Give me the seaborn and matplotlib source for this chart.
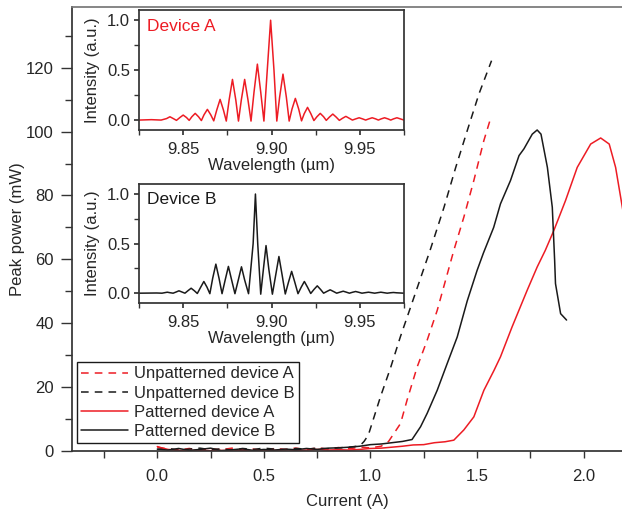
"""
Peak power vs current for patterned / unpatterned lasers, with spectra insets.
"""
import matplotlib
matplotlib.use("Agg")
import matplotlib.pyplot as plt
from matplotlib.ticker import MultipleLocator
import seaborn as sns
import pandas as pd

sns.set_theme(style="ticks")
plt.rcParams["font.family"] = ["Liberation Sans", "DejaVu Sans"]

RED = "#ed1c24"
BLACK = "#1a1a1a"

# %% L-I data (current in A, peak power in mW)
unpat_a_I = [0.00, 0.05, 0.10, 0.15, 0.20, 0.25, 0.30, 0.35, 0.40, 0.45, 0.50, 0.55, 0.60,
             0.65, 0.70, 0.75, 0.80, 0.85, 0.90, 0.95, 1.00, 1.05, 1.085, 1.141, 1.172,
             1.219, 1.266, 1.313, 1.391, 1.438, 1.485, 1.532, 1.563]
unpat_a_P = [1.2, 0.6, 0.3, 0.8, 0.2, 0.7, 0.4, 0.9, 0.3, 0.6, 0.2, 0.8, 0.5, 0.9, 0.4,
             1.0, 0.6, 1.1, 0.7, 1.2, 1.0, 1.5, 3.0, 8.6, 16.0, 26.3, 34.7, 44.0, 62.8,
             73.2, 84.7, 97.2, 104.0]

unpat_b_I = [0.00, 0.05, 0.10, 0.15, 0.20, 0.25, 0.30, 0.35, 0.40, 0.45, 0.50, 0.55, 0.60,
             0.65, 0.70, 0.75, 0.80, 0.85, 0.90, 0.95, 0.97, 0.99, 1.047, 1.094, 1.14,
             1.188, 1.258, 1.282, 1.345, 1.40, 1.454, 1.509, 1.547, 1.568]
unpat_b_P = [0.5, 0.8, 0.3, 0.6, 0.9, 0.4, 0.7, 0.3, 0.8, 0.5, 0.9, 0.6, 0.4, 0.8, 0.6,
             0.9, 0.7, 1.0, 1.2, 1.6, 3.0, 5.0, 17.0, 26.0, 35.7, 45.0, 58.6, 63.3, 76.3,
             88.8, 100.3, 111.8, 118.5, 122.2]

pat_a_I = [0.00, 0.02, 0.05, 0.10, 0.15, 0.20, 0.25, 0.30, 0.35, 0.40, 0.45, 0.50, 0.55,
           0.60, 0.65, 0.70, 0.75, 0.80, 0.85, 0.90, 0.95, 1.00, 1.05, 1.10, 1.15, 1.20,
           1.25, 1.30, 1.35, 1.391, 1.438, 1.485, 1.532, 1.58, 1.61, 1.664, 1.735, 1.782,
           1.82, 1.86, 1.915, 1.97, 2.033, 2.08, 2.12, 2.15, 2.19]
pat_a_P = [1.4, 1.0, 0.5, 0.2, 0.1, 0.3, 0.1, 0.2, 0.0, 0.2, 0.1, 0.3, 0.2, 0.4, 0.2,
           0.3, 0.5, 0.3, 0.4, 0.3, 0.5, 0.8, 0.9, 1.2, 1.5, 1.9, 2.0, 2.6, 2.9, 3.4,
           6.6, 10.7, 19.0, 25.3, 29.5, 38.8, 50.3, 57.6, 62.8, 69.0, 78.4, 88.8, 96.1,
           98.0, 96.1, 88.8, 73.0]

pat_b_I = [0.00, 0.05, 0.10, 0.15, 0.20, 0.25, 0.30, 0.35, 0.40, 0.45, 0.50, 0.55, 0.60,
           0.65, 0.70, 0.75, 0.80, 0.85, 0.90, 0.95, 1.00, 1.05, 1.10, 1.15, 1.195, 1.235,
           1.266, 1.313, 1.36, 1.407, 1.454, 1.50, 1.53, 1.578, 1.61, 1.657, 1.697, 1.72,
           1.759, 1.782, 1.80, 1.83, 1.853, 1.864, 1.868, 1.892, 1.92]
pat_b_P = [0.6, 0.3, 0.8, 0.2, 0.5, 0.9, 0.1, 0.4, 0.7, 0.2, 0.5, 0.3, 0.6, 0.4, 0.8,
           0.5, 0.9, 1.0, 1.2, 1.5, 2.0, 2.2, 2.6, 3.0, 3.6, 7.6, 11.8, 19.0, 27.4, 35.7,
           47.0, 56.5, 62.0, 70.0, 77.4, 84.7, 92.5, 94.6, 99.2, 100.5, 99.2, 88.8, 76.3,
           59.7, 52.4, 43.0, 41.0]

# %% Spectra (wavelength in um, normalised intensity), read peak / flank / trough
spec_a_wl = [9.825, 9.832, 9.8375, 9.8406, 9.8425, 9.8444, 9.8462, 9.8481, 9.850, 9.8519,
             9.8534, 9.8549, 9.8568, 9.8587, 9.8603, 9.8618, 9.8637, 9.8656, 9.8673, 9.869,
             9.8709, 9.8728, 9.8744, 9.876, 9.8779, 9.8798, 9.8813, 9.8829, 9.8848, 9.8867,
             9.8884, 9.8901, 9.892, 9.8939, 9.8957, 9.8976, 9.8995, 9.9014, 9.903, 9.9046,
             9.9065, 9.9084, 9.910, 9.9116, 9.9135, 9.9154, 9.917, 9.9185, 9.9204, 9.9223,
             9.924, 9.9257, 9.9276, 9.9295, 9.931, 9.9328, 9.9347, 9.9366, 9.9384, 9.9402,
             9.9421, 9.944, 9.9458, 9.9477, 9.9496, 9.9515, 9.9533, 9.9551, 9.957, 9.9589,
             9.9605, 9.9621, 9.964, 9.9659, 9.9675, 9.9691, 9.971, 9.9729, 9.975]
spec_a_int = [0.0, 0.004, 0.0, 0.015, 0.033, 0.015, -0.003, 0.025, 0.05, 0.025,
              -0.003, 0.033, 0.067, 0.033, -0.005, 0.053, 0.107, 0.053, -0.008, 0.10,
              0.207, 0.10, -0.01, 0.20, 0.407, 0.20, -0.01, 0.20, 0.407, 0.20,
              -0.01, 0.28, 0.56, 0.28, -0.01, 0.50, 1.0, 0.50, -0.01, 0.23,
              0.46, 0.23, -0.01, 0.11, 0.217, 0.11, -0.008, 0.063, 0.127, 0.063,
              -0.005, 0.033, 0.067, 0.033, -0.003, 0.03, 0.06, 0.03, -0.003, 0.018,
              0.037, 0.018, 0.0, 0.012, 0.023, 0.012, 0.0, 0.012, 0.023, 0.012,
              0.0, 0.012, 0.023, 0.012, 0.0, 0.012, 0.023, 0.012, 0.0]

spec_b_wl = [9.825, 9.835, 9.838, 9.8395, 9.841, 9.8425, 9.8443, 9.846, 9.8476, 9.8493,
             9.851, 9.8527, 9.8545, 9.8563, 9.858, 9.8599, 9.8617, 9.8635, 9.8651, 9.8667,
             9.8685, 9.8703, 9.872, 9.8738, 9.8756, 9.8774, 9.8793, 9.8812, 9.883, 9.8848,
             9.887, 9.8896, 9.8909, 9.8922, 9.8939, 9.8954, 9.8969, 9.8985, 9.9005, 9.9024,
             9.9042, 9.906, 9.9078, 9.9096, 9.9114, 9.9132, 9.915, 9.9168, 9.9186, 9.9204,
             9.9222, 9.924, 9.9259, 9.9278, 9.9295, 9.9313, 9.9332, 9.9351, 9.9369, 9.9387,
             9.9406, 9.9424, 9.9441, 9.9458, 9.9476, 9.9494, 9.9512, 9.953, 9.9549, 9.9567,
             9.9584, 9.9601, 9.9619, 9.9637, 9.9655, 9.9672, 9.969, 9.9708, 9.975]
spec_b_int = [0.0, 0.002, 0.0, 0.005, 0.01, 0.005, 0.0, 0.012, 0.024, 0.012,
              0.0, 0.025, 0.05, 0.025, -0.003, 0.06, 0.118, 0.06, -0.005, 0.15,
              0.293, 0.15, -0.005, 0.135, 0.27, 0.135, -0.005, 0.133, 0.266, 0.133,
              -0.005, 0.5, 1.0, 0.5, -0.01, 0.24, 0.48, 0.24, -0.01, 0.185,
              0.37, 0.185, -0.008, 0.11, 0.22, 0.11, -0.005, 0.06, 0.118, 0.06,
              -0.003, 0.037, 0.074, 0.037, 0.0, 0.017, 0.034, 0.017, 0.0, 0.01,
              0.02, 0.01, 0.0, 0.009, 0.017, 0.009, 0.0, 0.005, 0.01, 0.005,
              0.0, 0.005, 0.01, 0.005, 0.0, 0.004, 0.007, 0.004, 0.0]

series = [
    ("Unpatterned device A", unpat_a_I, unpat_a_P, RED, (5, 4)),
    ("Unpatterned device B", unpat_b_I, unpat_b_P, BLACK, (5, 4)),
    ("Patterned device A", pat_a_I, pat_a_P, RED, None),
    ("Patterned device B", pat_b_I, pat_b_P, BLACK, None),
]

FS = 12
SPINE = "#333333"

fig = plt.figure(figsize=(6.22, 5.12), dpi=100)
ax = fig.add_axes([0.1158, 0.1191, 0.8842, 0.8672])

for name, cur, pw, col, dash in series:
    d = pd.DataFrame({"Current": cur, "Power": pw})
    ln = sns.lineplot(data=d, x="Current", y="Power", ax=ax, color=col, lw=1.1,
                      sort=False, estimator=None, label=name)
    if dash is not None:
        ln.lines[-1].set_dashes(dash)

ax.set_xticks([0.0, 0.5, 1.0, 1.5, 2.0])
ax.set_xticklabels(["0.0", "0.5", "1.0", "1.5", "2.0"])
ax.xaxis.set_minor_locator(MultipleLocator(0.25))
ax.yaxis.set_major_locator(MultipleLocator(20))
ax.yaxis.set_minor_locator(MultipleLocator(10))
ax.set_xlim(-0.4, 2.18)
ax.set_ylim(0, 139)
ax.tick_params(which="both", direction="out", labelsize=FS, color=SPINE, width=1)
ax.tick_params(axis="y", which="major", length=8, pad=5)
ax.tick_params(axis="y", which="minor", length=5)
ax.tick_params(axis="x", which="both", length=5, pad=8)
ax.set_xlabel("Current (A)", fontsize=FS, labelpad=7)
ax.set_ylabel("Peak power (mW)", fontsize=FS)
ax.yaxis.set_label_coords(-0.086, 0.5)
ax.spines["right"].set_visible(False)
for s in ["left", "bottom"]:
    ax.spines[s].set_color(SPINE)
ax.spines["top"].set_color("#777777")

leg = ax.legend(loc="lower left", bbox_to_anchor=(0.009, 0.018), borderaxespad=0,
                fontsize=FS, frameon=True, fancybox=False, edgecolor=BLACK,
                framealpha=1, handlelength=2.8, handletextpad=0.4, labelspacing=0.25,
                borderpad=0.25)
leg.get_frame().set_linewidth(1.0)


def spectrum_inset(rect, wl, inten, col, title):
    ia = fig.add_axes(rect)
    d = pd.DataFrame({"Wavelength": wl, "Intensity": inten})
    sns.lineplot(data=d, x="Wavelength", y="Intensity", ax=ia, color=col, lw=1.1,
                 sort=False, estimator=None)
    ia.set_xticks([9.85, 9.90, 9.95])
    ia.set_xticklabels(["9.85", "9.90", "9.95"])
    ia.xaxis.set_minor_locator(MultipleLocator(0.025))
    ia.set_yticks([0.0, 0.5, 1.0])
    ia.set_yticklabels(["0.0", "0.5", "1.0"])
    ia.yaxis.set_minor_locator(MultipleLocator(0.25))
    ia.set_xlim(9.825, 9.975)
    ia.set_ylim(-0.1, 1.1)
    ia.tick_params(which="both", direction="out", labelsize=FS, color=SPINE, length=3.5)
    ia.tick_params(axis="y", pad=3)
    ia.tick_params(axis="x", pad=5)
    ia.set_xlabel("Wavelength (µm)", fontsize=FS, labelpad=1)
    ia.set_ylabel("Intensity (a.u.)", fontsize=FS, labelpad=5)
    for s in ia.spines.values():
        s.set_color(SPINE)
    ia.text(0.03, 0.93, title, transform=ia.transAxes, color=col, fontsize=FS + 0.5,
            ha="left", va="top")
    ia.set_facecolor("white")
    return ia


spectrum_inset([0.2235, 0.746, 0.426, 0.234], spec_a_wl, spec_a_int, RED, "Device A")
spectrum_inset([0.2235, 0.408, 0.426, 0.2324], spec_b_wl, spec_b_int, BLACK, "Device B")

fig.savefig("out.png", dpi=100)
